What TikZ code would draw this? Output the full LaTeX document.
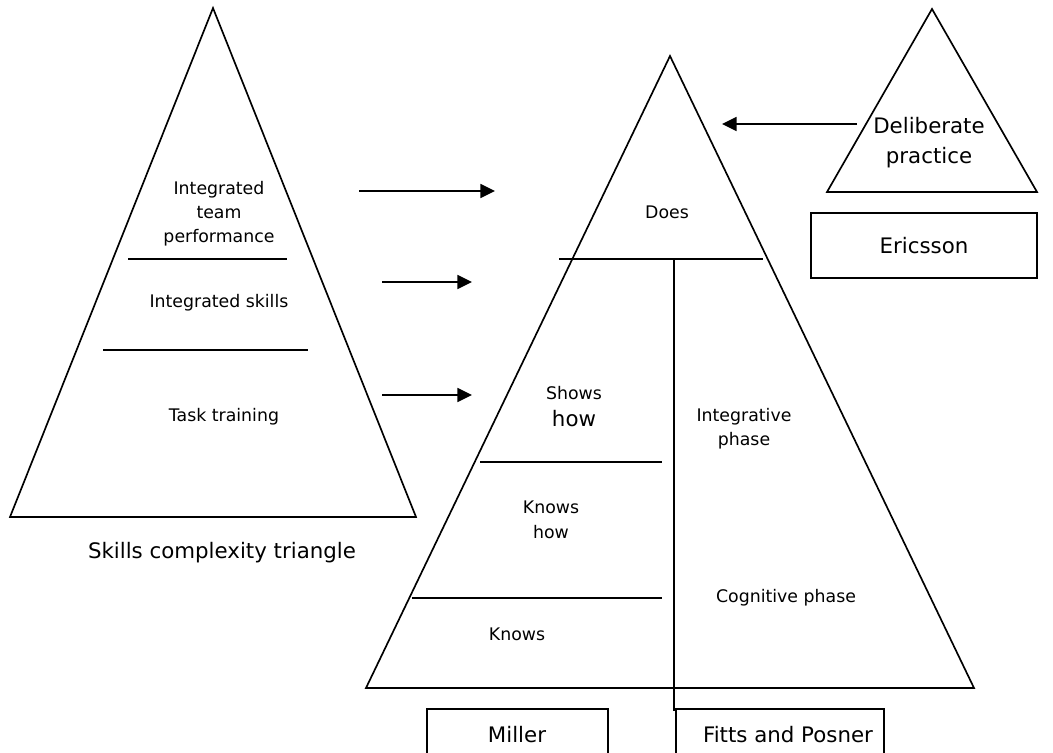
\documentclass[tikz,border=0pt]{standalone}
\usepackage{fontspec}
\setmainfont{DejaVu Sans}
\usetikzlibrary{arrows.meta}
\begin{document}
\begin{tikzpicture}[x=0.75pt,y=-0.75pt,
  shape line/.style={line width=1.25pt, line join=miter},
  sep/.style={line width=1.25pt},
  arr/.style={line width=1.25pt,-{Triangle[length=11pt,width=10.5pt]}},
  small/.style={font=\fontsize{13}{18}\selectfont, align=center, inner sep=0pt},
  large/.style={font=\fontsize{16}{22.5}\selectfont, align=center, inner sep=0pt},
  labelbox/.style={draw, line width=1.25pt, inner sep=0pt, font=\fontsize{16}{22}\selectfont}]
\useasboundingbox (0,0) rectangle (1053,753);
\clip (0,0) rectangle (1053,753);
\fill[white] (0,0) rectangle (1053,753);

% left triangle
\coordinate (LA) at (213,8);
\coordinate (LB) at (10,517);
\coordinate (LC) at (416,517);
\draw[shape line] (LA) -- (LB) -- (LC) -- cycle;
\draw[sep] (128,259) -- (287,259);
\draw[sep] (103,350) -- (308,350);
\node[small] (itp) at (219,214) {Integrated\\team\\performance};
\node[small] (is) at (219,303) {Integrated skills};
\node[small] (tt) at (224,417) {Task training};
\node[large] (sct) at (222,553) {Skills complexity triangle};

% main triangle
\coordinate (MA) at (670,56);
\coordinate (MB) at (366,688);
\coordinate (MC) at (974,688);
\draw[shape line] (MA) -- (MB) -- (MC) -- cycle;
\draw[sep] (559,259) -- (763,259);
\draw[sep] (674,259) -- (674,711);
\draw[sep] (480,462) -- (662,462);
\draw[sep] (412,598) -- (662,598);
\node[small] (does) at (667,212) {Does};
\node[small] (shows) at (574,393) {Shows};
\node[large] (showshow) at (574,419) {how};
\node[small] (knowshow) at (551,520) {Knows\\[1pt]how};
\node[small] (knows) at (517,634) {Knows};
\node[small] (integ) at (744,429) {Integrative\\phase};
\node[small] (cog) at (786,598) {Cognitive phase};

% arrows
\coordinate (a1s) at (359,191);
\coordinate (a1e) at (495,191);
\coordinate (a2s) at (382,282);
\coordinate (a2e) at (472,282);
\coordinate (a3s) at (382,395);
\coordinate (a3e) at (472,395);
\draw[arr] (a1s) -- (a1e);
\draw[arr] (a2s) -- (a2e);
\draw[arr] (a3s) -- (a3e);

% deliberate practice triangle
\coordinate (DA) at (932,9);
\coordinate (DB) at (827,192);
\coordinate (DC) at (1037,192);
\draw[shape line] (DA) -- (DB) -- (DC) -- cycle;
\node[large] (dp) at (929,143) {Deliberate\\practice};
\coordinate (a4s) at (857,124);
\coordinate (a4e) at (722,124);
\draw[arr] (a4s) -- (a4e);

% boxes
\node[labelbox, minimum width=226*0.75pt, minimum height=65*0.75pt] (eric) at (924,245.5) {Ericsson};
\draw[line width=1.25pt] (427,790) -- (427,709) -- (608,709) -- (608,790);
\node[large] (miller) at (517,735) {Miller};
\draw[line width=1.25pt] (676,790) -- (676,709) -- (884,709) -- (884,790);
\node[large] (fitts) at (788,735) {Fitts and Posner};
\end{tikzpicture}
\end{document}
